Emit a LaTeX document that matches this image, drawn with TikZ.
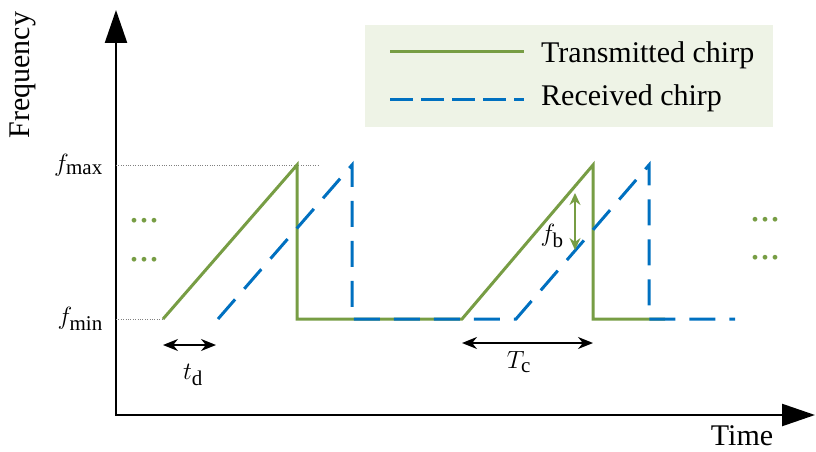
\documentclass[tikz,border=0pt]{standalone}
\usepackage{amsmath}
\usepackage{fontspec}
\setmainfont{Liberation Serif}
\usepackage{tikz}
\usetikzlibrary{arrows.meta, positioning, calc}

\definecolor{txgreen}{RGB}{119,157,68}
\definecolor{rxblue}{RGB}{0,112,192}
\definecolor{legendbg}{RGB}{238,243,230}

\begin{document}
\begin{tikzpicture}[x=1pt, y=1pt,
    txline/.style={txgreen, line width=3pt},
    rxline/.style={rxblue, line width=3pt, dash pattern=on 26pt off 14pt},
    lbl/.style={font=\fontsize{30}{36}\selectfont, inner sep=1pt},
    more/.style={font=\fontsize{40}{44}\selectfont, text=txgreen, inner sep=0pt},
    guide/.style={gray, line width=0.8pt, dash pattern=on 1pt off 1.4pt},
    span/.style={line width=1.8pt, {Stealth[length=15pt, width=12pt]}-{Stealth[length=15pt, width=12pt]}}]
  \useasboundingbox (0,0) rectangle (816,451);

  % legend
  \fill[legendbg] (365,324) rectangle (773,426);
  \coordinate (txa) at (390,399);
  \coordinate (txb) at (524,399);
  \coordinate (rxa) at (390,352);
  \coordinate (rxb) at (524,352);
  \draw[txline] (txa) -- (txb);
  \draw[rxline, dash pattern=on 23pt off 8pt] (rxa) -- (rxb);
  \node[lbl, anchor=west] (txname) at (540,396) {Transmitted chirp};
  \node[lbl, anchor=west] (rxname) at (540,353) {Received chirp};

  % axes
  \coordinate (O) at (116,36);
  \coordinate (ytip) at (116,441);
  \coordinate (xtip) at (815,36);
  \draw[line width=2.4pt, {Triangle[length=33pt, width=22pt]}-{Triangle[length=33pt, width=22pt]}]
    (ytip) -- (O) -- (xtip);
  \node[lbl, rotate=90] (freq) at (23,376) {Frequency};
  \node[lbl] (time) at (742,15) {Time};

  % chirp corners
  \coordinate (tx0) at (163,132);
  \coordinate (tx1) at (297,286);
  \coordinate (tx2) at (297,132);
  \coordinate (tx3) at (462,132);
  \coordinate (tx4) at (593,286);
  \coordinate (tx5) at (593,132);
  \coordinate (tx6) at (665,132);
  \coordinate (rx0) at (218,132);
  \coordinate (rx1) at (352,286);
  \coordinate (rx2) at (352,132);
  \coordinate (rx3) at (516,132);
  \coordinate (rx4) at (649,286);
  \coordinate (rx5) at (649,132);
  \coordinate (rx6) at (735,132);

  % frequency levels
  \draw[guide] (O |- tx1) -- ($(tx1)+(21,0)$);
  \draw[guide] (O |- tx0) -- (tx0);
  \node[lbl, anchor=east] (fmax) at (104,286) {$f_{\mathrm{max}}$};
  \node[lbl, anchor=east] (fmin) at (104,132) {$f_{\mathrm{min}}$};

  \draw[txline] (tx0) -- (tx1) -- (tx2) -- (tx3) -- (tx4) -- (tx5) -- (tx6);
  \draw[rxline] (rx0) -- (rx1) -- (rx2) -- (rx3) -- (rx4) -- (rx5) -- (rx6);

  \node[more] (dotsa) at (144,230) {...};
  \node[more] (dotsb) at (144,191) {...};
  \node[more] (dotsc) at (765,231) {...};
  \node[more] (dotsd) at (765,193) {...};

  % delay, chirp time, beat frequency
  \coordinate (tdl) at (163,106);
  \coordinate (tdr) at (216,106);
  \draw[span] (tdl) -- (tdr);
  \node[lbl] (tdlab) at (193,76) {$t_{\mathrm{d}}$};

  \coordinate (tcl) at (462,108);
  \coordinate (tcr) at (593,108);
  \draw[span] (tcl) -- (tcr);
  \node[lbl] (tclab) at (519,89) {$T_{\mathrm{c}}$};

  \coordinate (fbt) at (575,258);
  \coordinate (fbb) at (575,201);
  \draw[span, txgreen, line width=1.5pt, {Stealth[length=12pt, width=11pt]}-{Stealth[length=12pt, width=11pt]}] (fbt) -- (fbb);
  \node[lbl] (fblab) at (552,215) {$f_{\mathrm{b}}$};
\end{tikzpicture}
\end{document}
